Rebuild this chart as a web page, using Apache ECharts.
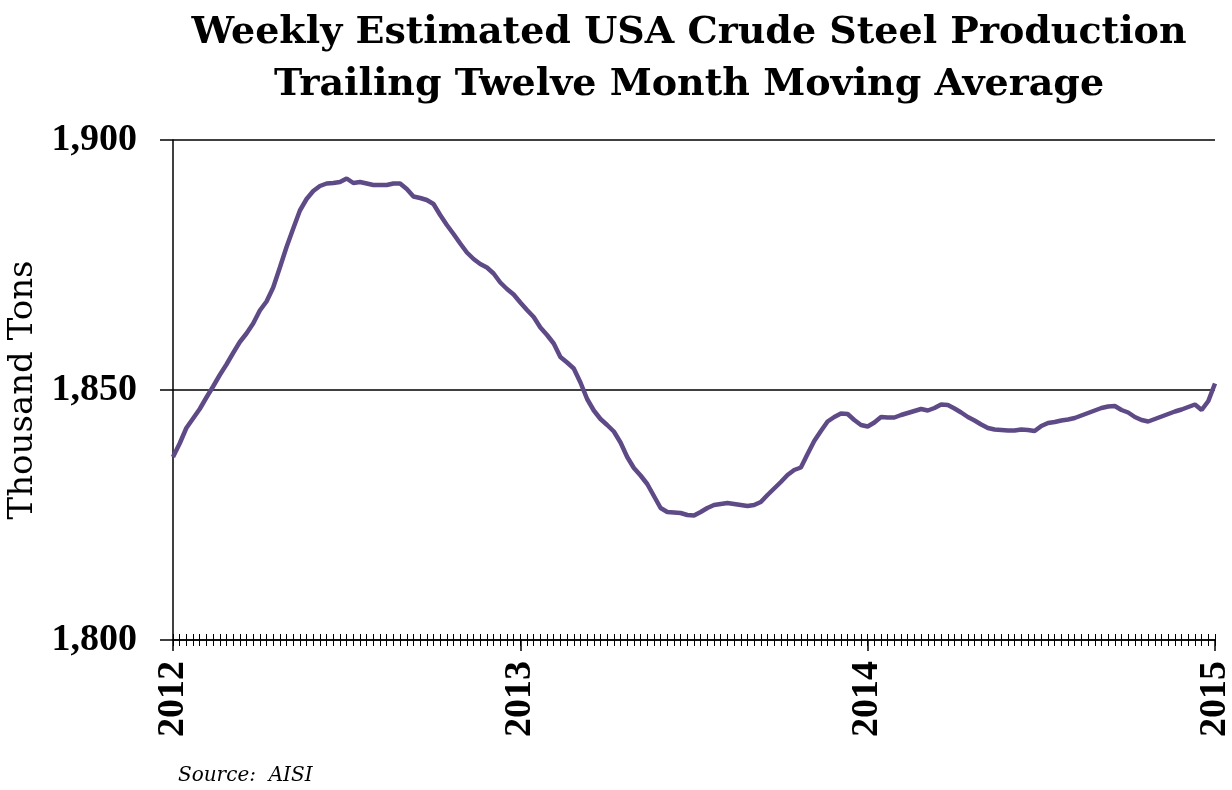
<!DOCTYPE html>
<html>
<head>
<meta charset="utf-8">
<script src="https://cdn.jsdelivr.net/npm/echarts@6/dist/echarts.min.js"></script>
<style>
  html, body { margin: 0; padding: 0; background: #fff; }
  #chart { width: 1232px; height: 790px; }
</style>
</head>
<body>
<div id="chart"></div>
<script>
/* weekly trailing 12-month average, thousand tons, Jan 2012 .. Jan 2015 */
var production = [
  1836.6, 1839.3, 1842.4, 1844.3, 1846.2, 1848.5, 1850.7, 1853.0, 1855.1, 1857.4,
  1859.6, 1861.3, 1863.3, 1865.9, 1867.7, 1870.5, 1874.5, 1878.6, 1882.3, 1885.9,
  1888.2, 1889.8, 1890.8, 1891.3, 1891.4, 1891.6, 1892.3, 1891.4, 1891.6, 1891.3,
  1891.0, 1891.0, 1891.0, 1891.3, 1891.3, 1890.2, 1888.7, 1888.4, 1888.0, 1887.2,
  1885.0, 1883.0, 1881.2, 1879.3, 1877.5, 1876.2, 1875.2, 1874.5, 1873.3, 1871.5,
  1870.2, 1869.1, 1867.5, 1866.0, 1864.6, 1862.5, 1861.0, 1859.3, 1856.6, 1855.5,
  1854.3, 1851.5, 1848.2, 1845.9, 1844.2, 1843.0, 1841.7, 1839.5, 1836.6, 1834.4,
  1832.9, 1831.2, 1828.8, 1826.4, 1825.6, 1825.5, 1825.4, 1825.0, 1824.9, 1825.6,
  1826.4, 1827.0, 1827.2, 1827.4, 1827.2, 1827.0, 1826.8, 1827.0, 1827.6, 1829.0,
  1830.3, 1831.6, 1833.0, 1834.0, 1834.5, 1837.2, 1839.8, 1841.8, 1843.7, 1844.6,
  1845.3, 1845.2, 1844.0, 1843.0, 1842.7, 1843.5, 1844.6, 1844.5, 1844.5, 1845.0,
  1845.4, 1845.8, 1846.2, 1845.9, 1846.4, 1847.1, 1847.0, 1846.3, 1845.5, 1844.6,
  1843.9, 1843.1, 1842.4, 1842.1, 1842.0, 1841.9, 1841.9, 1842.1, 1842.0, 1841.8,
  1842.8, 1843.4, 1843.6, 1843.9, 1844.1, 1844.4, 1844.9, 1845.4, 1845.9, 1846.4,
  1846.7, 1846.8, 1846.0, 1845.5, 1844.6, 1844.0, 1843.7, 1844.2, 1844.7, 1845.2,
  1845.7, 1846.1, 1846.6, 1847.1, 1846.0, 1847.8, 1851.3
];
var yearLabels = ['2012', '2013', '2014', '2015'];
var yearIndex = [0, 52, 104, 156];
var yTicks = [1800, 1850, 1900];

// one category per week
var weeks = [];
var start = new Date(2012, 0, 1);
for (var i = 0; i < production.length; i++) {
  var d = new Date(start.getTime() + i * 7 * 86400000);
  weeks.push(d.getFullYear() + '-' + (d.getMonth() + 1) + '-' + d.getDate());
}

function isYear(idx) { return yearIndex.indexOf(idx) >= 0; }

var serif = 'DejaVu Serif';
var numFont = 'Liberation Serif';
var chart = echarts.init(document.getElementById('chart'));
var option = {
  animation: false,
  backgroundColor: '#fff',
  title: {
    text: 'Weekly Estimated USA Crude Steel Production\nTrailing Twelve Month Moving Average',
    left: 684,
    top: 2,
    textAlign: 'center',
    textStyle: {
      fontFamily: serif,
      fontWeight: 'bold',
      fontSize: 38,
      lineHeight: 52,
      color: '#000'
    }
  },
  grid: { left: 173, right: 17, top: 140, bottom: 150, outerBoundsMode: 'none' },
  xAxis: [
    {
      type: 'category',
      data: weeks,
      boundaryGap: false,
      axisLine: { lineStyle: { color: '#000', width: 1.5 } },
      axisTick: { show: true, inside: true, length: 6, interval: 0, lineStyle: { color: '#000' } },
      axisLabel: {
        rotate: 90,
        margin: 21,
        fontFamily: numFont,
        fontWeight: 'bold',
        fontSize: 38,
        color: '#000',
        interval: isYear,
        formatter: function (v, idx) {
          var k = yearIndex.indexOf(idx);
          return k >= 0 ? yearLabels[k] : '';
        }
      },
      splitLine: { show: false }
    },
    {
      // weekly ticks below the line
      type: 'category',
      data: weeks,
      boundaryGap: false,
      position: 'bottom',
      axisLine: { show: false },
      axisTick: { show: true, length: 6, interval: 0, lineStyle: { color: '#000' } },
      axisLabel: { show: false },
      splitLine: { show: false }
    },
    {
      // longer year ticks
      type: 'category',
      data: weeks,
      boundaryGap: false,
      position: 'bottom',
      axisLine: { show: false },
      axisTick: { show: true, length: 11, interval: isYear, lineStyle: { color: '#000', width: 1.5 } },
      axisLabel: { show: false },
      splitLine: { show: false }
    }
  ],
  yAxis: {
    type: 'value',
    min: 1800,
    max: 1900,
    interval: 50,
    name: 'Thousand Tons',
    nameLocation: 'middle',
    nameGap: 123,
    nameTextStyle: { fontFamily: serif, fontSize: 34, color: '#000' },
    axisLine: { show: true, lineStyle: { color: '#000', width: 1.5 } },
    axisTick: { show: true, length: 13, lineStyle: { color: '#000', width: 1.5 } },
    axisLabel: {
      margin: 36,
      fontFamily: numFont,
      fontWeight: 'bold',
      fontSize: 38,
      color: '#000',
      formatter: function (v) { return yTicks.indexOf(v) >= 0 ? echarts.format.addCommas(v) : ''; }
    },
    splitLine: { show: true, lineStyle: { color: '#000', width: 1.5 } }
  },
  series: [{
    type: 'line',
    data: production,
    showSymbol: false,
    smooth: false,
    lineStyle: { color: '#5e4a86', width: 4.5 }
  }],
  graphic: [{
    type: 'text',
    left: 178,
    top: 766,
    style: {
      text: 'Source:  AISI',
      font: 'italic 20px "DejaVu Serif"',
      fill: '#000'
    }
  }]
};
chart.setOption(option);
</script>
</body>
</html>
